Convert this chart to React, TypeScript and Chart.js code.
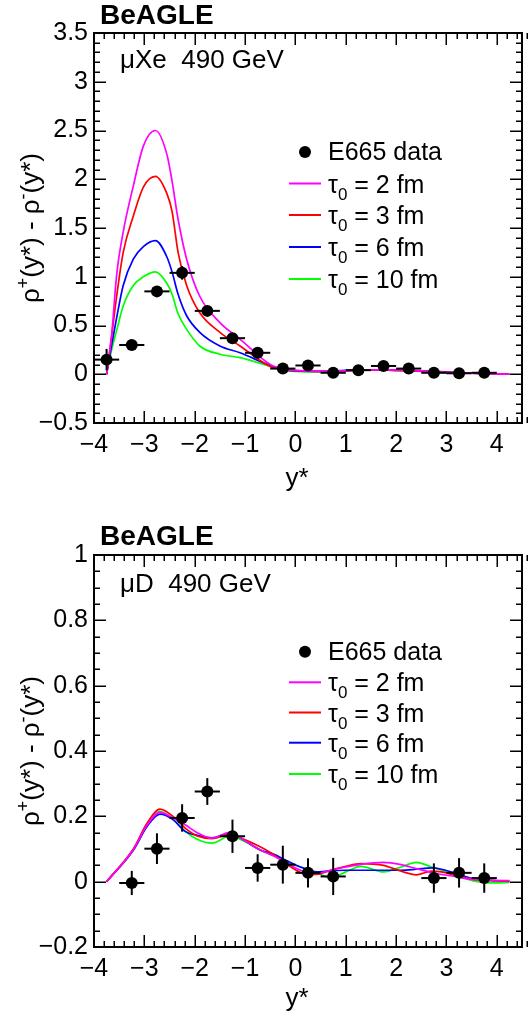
import React, { useEffect, useRef } from 'react';
import { Chart, registerables } from 'chart.js';

Chart.register(...registerables);

const FONT = '"Liberation Sans", Arial, Helvetica, sans-serif';

// ---------- shared axis ----------
const X_MIN = -4;
const X_MAX = 4.5;
const BIN_HALF_WIDTH = 0.25;
const LEGEND_LABELS = ['E665 data', '2 fm', '3 fm', '6 fm', '10 fm'];
const CURVE_COLORS = ['#ff00ff', '#ff0000', '#0000ff', '#00ff00'];

// ---------- top panel: muXe 490 GeV ----------
const XE_BIN_X = [-3.75, -3.25, -2.75, -2.25, -1.75, -1.25, -0.75, -0.25, 0.25, 0.75, 1.25, 1.75, 2.25, 2.75, 3.25, 3.75];
const XE_DATA = [0.15, 0.30, 0.85, 1.04, 0.65, 0.37, 0.22, 0.058, 0.09, 0.015, 0.042, 0.085, 0.058, 0.015, 0.01, 0.015];
const XE_ERR = [0.11, 0.02, 0.04, 0.07, 0.05, 0.04, 0.04, 0.03, 0.03, 0.03, 0.03, 0.03, 0.03, 0.03, 0.03, 0.03];
const XE_CURVE_X = [-3.75, -3.65, -3.55, -3.42, -3.22, -3.02, -2.78, -2.55, -2.45, -2.33, -2.16, -1.9, -1.5, -1.1, -0.5, -0.25, 0, 0.5, 1, 1.5, 2, 2.5, 3, 3.5, 4, 4.25];
const XE_TAU2 = [0, 0.40, 1.02, 1.46, 1.93, 2.34, 2.50, 2.25, 1.98, 1.59, 1.18, 0.80, 0.53, 0.36, 0.10, 0.055, 0.04, 0.03, 0.035, 0.045, 0.045, 0.035, 0.02, 0.01, 0.004, 0];
const XE_TAU3 = [0, 0.39, 0.80, 1.25, 1.62, 1.92, 2.03, 1.85, 1.67, 1.25, 0.91, 0.63, 0.43, 0.29, 0.08, 0.05, 0.038, 0.03, 0.035, 0.045, 0.04, 0.03, 0.02, 0.01, 0.004, 0];
const XE_TAU6 = [0, 0.30, 0.58, 0.91, 1.18, 1.31, 1.37, 1.20, 1.05, 0.82, 0.60, 0.43, 0.29, 0.22, 0.09, 0.05, 0.035, 0.03, 0.04, 0.045, 0.04, 0.035, 0.025, 0.012, 0.005, 0];
const XE_TAU10 = [0, 0.25, 0.45, 0.70, 0.91, 1.00, 1.05, 0.93, 0.82, 0.62, 0.46, 0.29, 0.205, 0.17, 0.08, 0.045, 0.03, 0.025, 0.035, 0.045, 0.04, 0.035, 0.02, 0.01, 0.003, 0];

// ---------- bottom panel: muD 490 GeV ----------
const D_BIN_X = [-3.25, -2.75, -2.25, -1.75, -1.25, -0.75, -0.25, 0.25, 0.75, 2.75, 3.25, 3.75];
const D_DATA = [-0.004, 0.101, 0.195, 0.276, 0.139, 0.042, 0.052, 0.027, 0.016, 0.011, 0.027, 0.011];
const D_ERR = [0.037, 0.047, 0.042, 0.041, 0.051, 0.042, 0.058, 0.045, 0.057, 0.045, 0.045, 0.045];
const D_CURVE_X = [-3.75, -3.22, -2.95, -2.69, -2.43, -2.19, -1.95, -1.66, -1.3, -1.0, -0.71, -0.45, -0.18, 0.1, 0.42, 0.7, 1.0, 1.3, 1.75, 2.1, 2.4, 2.7, 2.9, 3.2, 3.5, 3.9, 4.25];
const D_TAU2 = [0, 0.098, 0.172, 0.212, 0.195, 0.174, 0.15, 0.133, 0.151, 0.125, 0.098, 0.08, 0.058, 0.035, 0.025, 0.035, 0.045, 0.053, 0.059, 0.052, 0.04, 0.028, 0.022, 0.015, 0.007, 0.004, 0.003];
const D_TAU3 = [0, 0.1, 0.178, 0.222, 0.2, 0.164, 0.14, 0.132, 0.145, 0.128, 0.108, 0.085, 0.055, 0.028, 0.022, 0.035, 0.047, 0.055, 0.05, 0.032, 0.021, 0.032, 0.03, 0.018, 0.008, 0.003, 0.001];
const D_TAU6 = [0, 0.096, 0.168, 0.207, 0.19, 0.154, 0.142, 0.134, 0.148, 0.125, 0.098, 0.085, 0.065, 0.045, 0.03, 0.033, 0.035, 0.035, 0.035, 0.035, 0.038, 0.042, 0.038, 0.025, 0.01, 0.004, 0.002];
const D_TAU10 = [0, 0.097, 0.17, 0.215, 0.19, 0.154, 0.13, 0.118, 0.139, 0.122, 0.098, 0.08, 0.06, 0.045, 0.028, 0.012, 0.03, 0.047, 0.03, 0.045, 0.059, 0.045, 0.035, 0.018, 0.004, -0.004, -0.002];

type Panel = {
  label: string;
  yMin: number; yMax: number; yMajor: number; yMinor: number;
  binX: number[]; binY: number[]; binErr: number[];
  curveX: number[]; curves: number[][];
  height: number; padTop: number; xAxisHeight: number;
  beagleBase: number; labelBase: number; legendRows: number[];
  xTitleBase: number; yTitleCenter: number;
};

const PANELS: Panel[] = [
  {
    label: '\u03bcXe  490 GeV',
    yMin: -0.5, yMax: 3.5, yMajor: 0.5, yMinor: 0.1,
    binX: XE_BIN_X, binY: XE_DATA, binErr: XE_ERR,
    curveX: XE_CURVE_X, curves: [XE_TAU2, XE_TAU3, XE_TAU6, XE_TAU10],
    height: 510, padTop: 33, xAxisHeight: 87,
    beagleBase: 23.5, labelBase: 68, legendRows: [152, 183.5, 215, 247, 279],
    xTitleBase: 486, yTitleCenter: 228,
  },
  {
    label: '\u03bcD  490 GeV',
    yMin: -0.2, yMax: 1.0, yMajor: 0.2, yMinor: 0.05,
    binX: D_BIN_X, binY: D_DATA, binErr: D_ERR,
    curveX: D_CURVE_X, curves: [D_TAU2, D_TAU3, D_TAU6, D_TAU10],
    height: 511, padTop: 45, xAxisHeight: 74,
    beagleBase: 35, labelBase: 81.5, legendRows: [141.7, 172.3, 202.5, 232.7, 264],
    xTitleBase: 496, yTitleCenter: 241,
  },
];

const fmt = (v: number) => {
  const n = Math.round(v * 1000) / 1000;
  const s = String(Math.abs(n));
  return n < 0 ? '\u2212' + s : s;
};

function line(ctx: CanvasRenderingContext2D, x0: number, y0: number, x1: number, y1: number) {
  ctx.beginPath();
  ctx.moveTo(x0, y0);
  ctx.lineTo(x1, y1);
  ctx.stroke();
}

function makePlugin(p: Panel) {
  return {
    id: 'rootDecor',
    afterDatasetsDraw(chart: any) {
      const ctx: CanvasRenderingContext2D = chart.ctx;
      const xs = chart.scales.x;
      const ys = chart.scales.y;
      ctx.save();
      ctx.strokeStyle = '#000';
      ctx.lineWidth = 2;
      p.binX.forEach((x, i) => {
        const px = xs.getPixelForValue(x);
        const py = ys.getPixelForValue(p.binY[i]);
        line(ctx, xs.getPixelForValue(x - BIN_HALF_WIDTH), py, xs.getPixelForValue(x + BIN_HALF_WIDTH), py);
        line(ctx, px, ys.getPixelForValue(p.binY[i] - p.binErr[i]), px, ys.getPixelForValue(p.binY[i] + p.binErr[i]));
      });
      ctx.restore();
    },
    afterDraw(chart: any) {
      const ctx: CanvasRenderingContext2D = chart.ctx;
      const xs = chart.scales.x;
      const ys = chart.scales.y;
      const a = chart.chartArea;
      ctx.save();
      ctx.strokeStyle = '#000';
      ctx.fillStyle = '#000';
      // ticks
      ctx.lineWidth = 1.5;
      const nx = Math.round((X_MAX - X_MIN) / 0.2);
      for (let k = 0; k <= nx; k++) {
        const v = X_MIN + k * 0.2;
        const px = Math.round(xs.getPixelForValue(v)) + 0.25;
        const len = k % 5 === 0 ? 12 : 6;
        line(ctx, px, a.bottom, px, a.bottom - len);
        line(ctx, px, a.top, px, a.top + len);
      }
      const ny = Math.round((p.yMax - p.yMin) / p.yMinor);
      const per = Math.round(p.yMajor / p.yMinor);
      for (let k = 0; k <= ny; k++) {
        const v = p.yMin + k * p.yMinor;
        const py = Math.round(ys.getPixelForValue(v)) + 0.25;
        const len = k % per === 0 ? 12 : 6;
        line(ctx, a.left, py, a.left + len, py);
        line(ctx, a.right, py, a.right - len, py);
      }
      // frame
      ctx.lineWidth = 2;
      ctx.strokeRect(a.left, a.top, a.right - a.left, a.bottom - a.top);

      // BeAGLE
      ctx.textBaseline = 'alphabetic';
      ctx.textAlign = 'left';
      ctx.font = `bold 28px ${FONT}`;
      ctx.fillText('BeAGLE', 100, p.beagleBase);
      // system label
      ctx.font = `26px ${FONT}`;
      ctx.fillText(p.label, 120, p.labelBase);

      // legend
      const lx0 = 289, lx1 = 321, tx = 328;
      const fs = 25;
      ctx.beginPath();
      ctx.arc(305, p.legendRows[0], 6, 0, Math.PI * 2);
      ctx.fill();
      ctx.font = `${fs}px ${FONT}`;
      ctx.fillText(LEGEND_LABELS[0], tx, p.legendRows[0] + 0.33 * fs);
      for (let i = 0; i < 4; i++) {
        const y = p.legendRows[i + 1];
        ctx.strokeStyle = CURVE_COLORS[i];
        ctx.lineWidth = 2;
        line(ctx, lx0, y, lx1, y);
        const base = y + 0.36 * fs;
        ctx.font = `${fs}px ${FONT}`;
        ctx.fillText('\u03c4', tx, base);
        let x = tx + ctx.measureText('\u03c4').width;
        ctx.font = `${Math.round(fs * 0.68)}px ${FONT}`;
        ctx.fillText('0', x, base + 7);
        x += ctx.measureText('0').width;
        ctx.font = `${fs}px ${FONT}`;
        ctx.fillText(' = ' + LEGEND_LABELS[i + 1], x, base);
      }

      // x title
      ctx.font = `26px ${FONT}`;
      ctx.textAlign = 'center';
      ctx.fillText('y*', 297, p.xTitleBase);

      // y title, rotated, with superscripts
      const segs: [string, boolean][] = [['\u03c1', false], ['+', true], ['(y*) - \u03c1', false], ['-', true], ['(y*)', false]];
      const big = `26px ${FONT}`;
      const small = `18px ${FONT}`;
      let total = 0;
      const widths = segs.map(([t, sup]) => {
        ctx.font = sup ? small : big;
        const w = ctx.measureText(t).width;
        total += w;
        return w;
      });
      ctx.save();
      ctx.translate(39, p.yTitleCenter);
      ctx.rotate(-Math.PI / 2);
      ctx.textAlign = 'left';
      let cx = -total / 2;
      segs.forEach(([t, sup], i) => {
        ctx.font = sup ? small : big;
        ctx.fillText(t, cx, sup ? -10 : 0);
        cx += widths[i];
      });
      ctx.restore();

      ctx.restore();
    },
  };
}

function makeConfig(p: Panel): any {
  const datasets: any[] = [
    {
      label: LEGEND_LABELS[0],
      data: p.binX.map((x, i) => ({ x, y: p.binY[i] })),
      showLine: false,
      pointRadius: 6,
      pointBackgroundColor: '#000',
      pointBorderWidth: 0,
      pointBorderColor: '#000',
    },
    ...p.curves.map((c, k) => ({
      label: LEGEND_LABELS[k + 1],
      data: p.curveX.map((x, i) => ({ x, y: c[i] })),
      showLine: true,
      pointRadius: 0,
      borderColor: CURVE_COLORS[k],
      borderWidth: 1.7,
      cubicInterpolationMode: 'monotone',
      fill: false,
    })),
  ];
  return {
    type: 'scatter',
    data: { datasets },
    options: {
      animation: false,
      responsive: false,
      maintainAspectRatio: false,
      layout: { padding: { left: 0, right: 7, top: p.padTop, bottom: 0 } },
      plugins: { legend: { display: false }, tooltip: { enabled: false } },
      scales: {
        x: {
          type: 'linear',
          min: X_MIN,
          max: X_MAX,
          grid: { display: false, drawTicks: false },
          border: { display: false },
          ticks: {
            stepSize: 1,
            includeBounds: false,
            autoSkip: false,
            maxRotation: 0,
            padding: 7,
            color: '#000',
            font: { family: FONT, size: 25 },
            callback: (v: number) => fmt(v),
          },
          afterFit: (s: any) => { s.height = p.xAxisHeight; },
        },
        y: {
          type: 'linear',
          min: p.yMin,
          max: p.yMax,
          grid: { display: false, drawTicks: false },
          border: { display: false },
          ticks: {
            stepSize: p.yMajor,
            autoSkip: false,
            padding: 6,
            color: '#000',
            font: { family: FONT, size: 25 },
            callback: (v: number) => fmt(v),
          },
          afterFit: (s: any) => { s.width = 94; },
        },
      },
    },
    plugins: [makePlugin(p)],
  };
}

function PanelChart({ panel }: { panel: Panel }) {
  const ref = useRef<HTMLCanvasElement | null>(null);
  useEffect(() => {
    if (!ref.current) return;
    const chart = new Chart(ref.current, makeConfig(panel));
    return () => chart.destroy();
  }, [panel]);
  return (
    <canvas
      ref={ref}
      width={529}
      height={panel.height}
      style={{ display: 'block', width: 529, height: panel.height }}
    />
  );
}

export default function App() {
  return (
    <div style={{ position: 'absolute', left: 0, top: 0, width: 529, height: 1021, background: '#fff' }}>
      {PANELS.map((p, i) => (
        <PanelChart key={i} panel={p} />
      ))}
    </div>
  );
}
